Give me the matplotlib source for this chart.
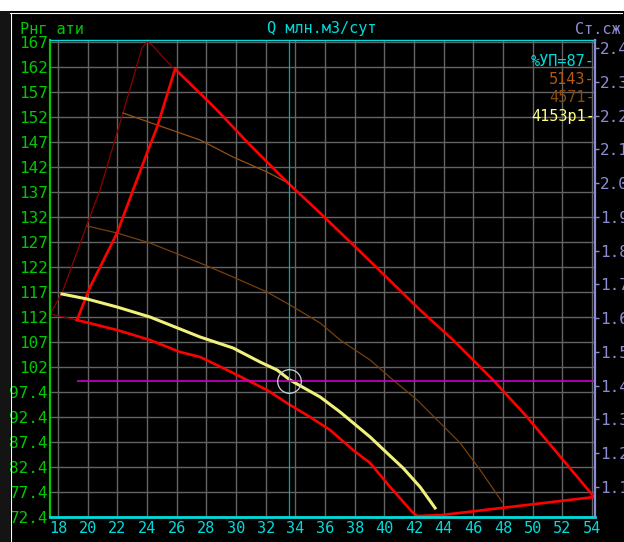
#!/usr/bin/env python3
"""Gas well operating envelope chart (Рнг vs Q) in a DOS-style look."""
import matplotlib

matplotlib.use("Agg")
import matplotlib.pyplot as plt
from matplotlib.patches import Rectangle
from matplotlib.lines import Line2D

W, H, DPI = 624, 542, 100
FONT = "DejaVu Sans Mono"

# axis ticks
x_ticks = list(range(18, 56, 2))
y_ticks = [72.4 + 5 * k for k in range(20)]
y_tick_labels = ["72.4", "77.4", "82.4", "87.4", "92.4", "97.4", "102", "107",
                 "112", "117", "122", "127", "132", "137", "142", "147", "152",
                 "157", "162", "167"]
r_ticks = [1.1, 1.2, 1.3, 1.4, 1.5, 1.6, 1.7, 1.8, 1.9, 2.0, 2.1, 2.2, 2.3, 2.4]

# thick red envelope (closed)
env_x = [19.28, 21.98, 24.20, 26.23, 27.58, 29.40, 30.74, 32.09, 33.64, 34.99,
         36.34, 37.89, 39.04, 40.39, 41.94, 42.21, 43.89, 54.14, 49.62, 47.33,
         44.63, 42.41, 39.51, 35.67, 33.51, 30.95, 28.45, 25.89, 24.68, 24.00,
         23.06, 21.98, 20.16, 19.28]
env_y = [111.8, 109.8, 107.8, 105.4, 104.4, 101.8, 99.8, 97.8, 94.8, 92.4,
         89.8, 85.8, 83.2, 78.4, 73.2, 72.6, 72.8, 76.4, 92.4, 99.8,
         107.8, 113.8, 122.2, 133.2, 139.2, 146.8, 154.6, 162.0, 150.4, 145.2,
         137.8, 129.2, 118.4, 111.8]

# thin dark red outer boundary
outer_x = [19.28, 17.46, 18.27, 20.02, 20.83, 22.38, 23.66, 24.00, 24.34, 25.75]
outer_y = [111.8, 113.0, 117.2, 131.4, 137.8, 153.2, 166.2, 167.4, 166.8, 162.2]

# well curves
w5143_x = [22.38, 24.68, 27.58, 29.80, 32.09, 33.51]
w5143_y = [153.2, 150.8, 147.8, 144.4, 141.4, 139.2]

w4571_x = [19.96, 21.98, 24.20, 27.58, 29.80, 32.09, 33.64, 35.67, 37.02,
           39.04, 40.59, 42.21, 43.56, 45.11, 46.46, 47.94]
w4571_y = [130.6, 129.2, 127.2, 123.2, 120.4, 117.4, 114.8, 111.2, 107.8,
           103.8, 99.8, 95.8, 91.8, 87.2, 81.8, 75.4]

w4153_x = [18.27, 19.96, 21.98, 24.20, 27.58, 29.80, 31.62, 32.77, 33.64,
           35.67, 37.02, 39.04, 40.18, 41.26, 42.41, 43.42]
w4153_y = [117.0, 116.0, 114.4, 112.4, 108.4, 106.2, 103.4, 101.8, 99.8,
           96.4, 93.4, 88.4, 85.2, 82.2, 78.4, 74.2]

# operating point
q_work = 33.58
p_work = 99.6
p_line_start = 19.3

GREEN = "#00c800"
CYAN = "#00dcdc"
PURPLE = "#8c8cd2"
GRID = "#646464"


def px(x, y):
    """pixel (from top-left) -> figure fraction"""
    return x / W, 1 - y / H


fig = plt.figure(figsize=(W / DPI, H / DPI), dpi=DPI, facecolor="black")

# window frame bits
fig.patches.append(Rectangle((0, 1 - 11 / H), 1, 11 / H, transform=fig.transFigure,
                             fc="white", ec="none"))
fig.patches.append(Rectangle((0, 0), 10 / W, 1 - 11 / H, transform=fig.transFigure,
                             fc="#141414", ec="none"))
fig.lines.append(Line2D([10 / W, 622 / W], [1 - 12.5 / H] * 2, transform=fig.transFigure,
                        color="white", lw=0.8))
fig.lines.append(Line2D([10.5 / W] * 2, [0, 1 - 12.5 / H], transform=fig.transFigure,
                        color="white", lw=0.8))

ax = fig.add_axes([50 / W, 1 - 517 / H, 545 / W, 477 / H], facecolor="black")
ax.set_xlim(17.46, 54.2)
ax.set_ylim(72.4, 167.8)
ax.set_xticks(x_ticks)
ax.set_xticklabels([str(t) for t in x_ticks])
ax.set_yticks(y_ticks)
ax.set_yticklabels(y_tick_labels)
ax.grid(True, color=GRID, lw=1.0)
ax.set_axisbelow(True)
ax.tick_params(axis="x", length=0, pad=3, labelcolor=CYAN, labelsize=11)
ax.tick_params(axis="y", length=0, pad=1.5, labelcolor=GREEN, labelsize=11.5)
for lab in ax.get_xticklabels() + ax.get_yticklabels():
    lab.set_family(FONT)
ax.spines["left"].set_color(GREEN)
ax.spines["left"].set_linewidth(1.6)
ax.spines["bottom"].set_color(CYAN)
ax.spines["bottom"].set_linewidth(2.0)
ax.spines["top"].set_color(CYAN)
ax.spines["top"].set_linewidth(1.0)
ax.spines["right"].set_visible(False)

ax.plot(outer_x, outer_y, color="#8c0000", lw=0.9)
ax.plot(w5143_x, w5143_y, color="#965014", lw=0.9)
ax.plot(w4571_x, w4571_y, color="#78400c", lw=0.9)
ax.plot(env_x, env_y, color="#ff0000", lw=1.9)
ax.plot(w4153_x, w4153_y, color="#f0f07a", lw=2.2)
ax.axvline(q_work, color="#00aaaa", lw=0.9)
ax.hlines(p_work, p_line_start, 54.2, color="#c800c8", lw=1.2)
ax.plot([q_work], [p_work], marker="o", ms=17, mfc="none", mec="#d2d2d2", mew=0.9)

ax2 = ax.twinx()
ax2.set_ylim(1.011, 2.424)
ax2.set_yticks(r_ticks)
ax2.set_yticklabels([f"{t:.2f}" for t in r_ticks])
ax2.tick_params(axis="y", direction="out", length=3, width=1, color=PURPLE,
                pad=0.5, labelcolor=PURPLE, labelsize=11.5)
for lab in ax2.get_yticklabels():
    lab.set_family(FONT)
for side in ("left", "top", "bottom"):
    ax2.spines[side].set_visible(False)
ax2.spines["right"].set_color(PURPLE)
ax2.spines["right"].set_linewidth(1.6)

# headers
fig.text(*px(20, 29), "Рнг ати", color=GREEN, family=FONT, fontsize=11,
         ha="left", va="center")
fig.text(*px(322, 29), "Q млн.м3/сут", color=CYAN, family=FONT, fontsize=11,
         ha="center", va="center")
fig.text(*px(621, 29), "Ст.сж", color=PURPLE, family=FONT, fontsize=11,
         ha="right", va="center")

# well labels
labels = [("%УП=87-", CYAN, 62), ("5143-", "#b45a14", 80),
          ("4571-", "#8c4a0c", 98), ("4153p1-", "#ffff82", 116)]
for text, col, yy in labels:
    fig.text(*px(595, yy), text, color=col, family=FONT, fontsize=11,
             ha="right", va="center")

fig.savefig("out.png", dpi=DPI, facecolor="black")
